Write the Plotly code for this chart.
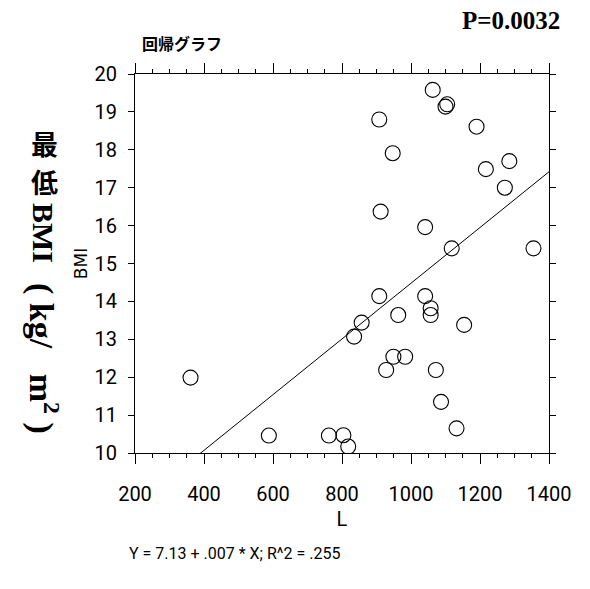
import plotly.graph_objects as go

# L values and lowest BMI (kg/m^2) per subject
l_values = [361, 588, 762, 804, 818,
            835, 857, 908, 908, 912, 928, 947, 949, 963, 983,
            1041, 1041, 1057, 1057, 1063, 1072, 1087, 1100, 1105,
            1118, 1132, 1154, 1190, 1217, 1272, 1285, 1355]
bmi_values = [11.99, 10.46, 10.46, 10.47, 10.17,
              13.07, 13.44, 18.80, 14.14, 16.37, 12.19, 17.91, 12.54, 13.64, 12.54,
              15.96, 14.14, 13.82, 13.64, 19.58, 12.19, 11.35, 19.14, 19.20,
              15.40, 10.65, 13.38, 18.61, 17.49, 17.00, 17.70, 15.40]

# fitted regression
intercept = 7.13
slope = 0.00735
r_squared = 0.255
p_value = "0.0032"

x_ticks = [200, 400, 600, 800, 1000, 1200, 1400]
y_ticks = list(range(10, 21))

plain = dict(family="Roboto, Liberation Sans, sans-serif", color="black")
serif_bold = "Liberation Serif, Times New Roman, serif"
cjk = "Noto Sans CJK JP"
nb = "\u00a0"

line_x = [x_ticks[0], x_ticks[-1]]
line_y = [intercept + slope * v for v in line_x]

fig = go.Figure()
fig.add_trace(go.Scatter(
    x=line_x, y=line_y, mode="lines",
    line=dict(color="black", width=1), hoverinfo="skip"))
fig.add_trace(go.Scatter(
    x=l_values, y=bmi_values, mode="markers",
    marker=dict(symbol="circle-open", size=15, color="black",
                line=dict(color="black", width=1.1))))

axis_common = dict(
    showgrid=False, zeroline=False, showline=True, linecolor="black",
    linewidth=1, mirror="allticks", ticks="outside", tickcolor="black",
    tickfont=dict(size=20, **plain))

fig.update_xaxes(
    range=[200, 1400], tickvals=x_ticks, ticklen=10, tickwidth=1,
    ticklabelstandoff=13,
    minor=dict(dtick=50, ticks="outside", ticklen=4, tickcolor="black"),
    title=dict(text="L", font=dict(size=20, **plain), standoff=6),
    **axis_common)
fig.update_yaxes(
    range=[10, 20], tickvals=y_ticks, ticklen=6, tickwidth=1,
    ticklabelstandoff=7,
    title=dict(text="BMI", font=dict(family="DejaVu Sans, sans-serif", size=17,
                                     color="black"),
               standoff=2),
    **axis_common)

eq_text = "Y = %.2f + %s * X; R^2 = %s" % (
    intercept, ("%.3f" % slope).lstrip("0"), ("%.3f" % r_squared).lstrip("0"))

annotations = [
    dict(text="<b>回帰グラフ</b>", x=182, y=43, font=dict(family=cjk, size=16)),
    dict(text="<b>P=%s</b>" % p_value, x=511, y=21,
         font=dict(family=serif_bold, size=25)),
    dict(text=eq_text, x=234, y=553, font=dict(size=16, **plain)),
    dict(text="<b>最</b>", x=44, y=143, font=dict(family=cjk, size=27)),
    dict(text="<b>低</b>", x=44, y=181, font=dict(family=cjk, size=27)),
    dict(text="<b>BMI</b>", x=44, y=233, textangle=90,
         font=dict(family=serif_bold, size=30)),
    dict(text="<b>(" + nb + "kg/" + nb * 3 + "m<sup>2</sup>" + nb + ")</b>",
         x=44, y=358, textangle=90, font=dict(family=serif_bold, size=34)),
]
for a in annotations:
    a.update(xref="paper", yref="paper", showarrow=False)
    a["font"].setdefault("color", "black")
    # positions above are in pixels; convert to paper coordinates
    a["x"] = (a["x"] - 135) / (549 - 135)
    a["y"] = (453 - a["y"]) / (453 - 74)
    a["xanchor"] = "center"
    a["yanchor"] = "middle"

fig.update_layout(
    width=590, height=589, showlegend=False,
    paper_bgcolor="white", plot_bgcolor="white",
    margin=dict(l=135, r=41, t=74, b=136),
    annotations=annotations)

fig.write_html("out.html")
